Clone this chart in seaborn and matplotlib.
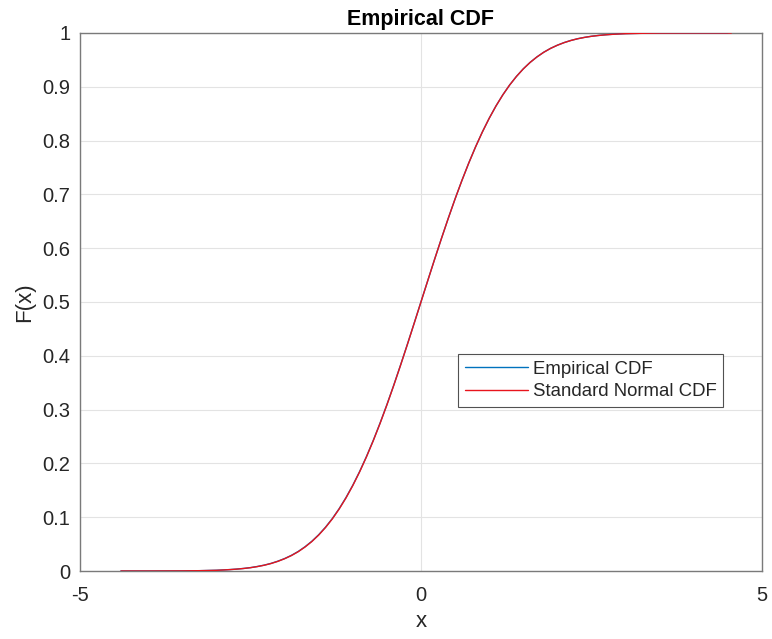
import matplotlib
matplotlib.use("Agg")
import matplotlib.pyplot as plt
import seaborn as sns
import pandas as pd

# Values
x_norm = [-4.4, -4.0, -3.5, -3.25, -3.0, -2.9, -2.8, -2.7, -2.6, -2.5, -2.4, -2.3, -2.2, -2.1,
          -2.0, -1.9, -1.8, -1.7, -1.6, -1.5, -1.4, -1.3, -1.2, -1.1, -1.0, -0.9, -0.8,
          -0.7, -0.6, -0.5, -0.4, -0.3, -0.2, -0.1, 0.0, 0.1, 0.2, 0.3, 0.4, 0.5, 0.6,
          0.7, 0.8, 0.9, 1.0, 1.1, 1.2, 1.3, 1.4, 1.5, 1.6, 1.7, 1.8, 1.9, 2.0, 2.1,
          2.2, 2.3, 2.4, 2.5, 2.6, 2.7, 2.8, 2.9, 3.0, 3.25, 3.5, 4.0, 4.55]
y_norm = [0.0, 0.0, 0.0002, 0.0006, 0.0013, 0.0019, 0.0026, 0.0035, 0.0047, 0.0062, 0.0082,
          0.0107, 0.0139, 0.0179, 0.0228, 0.0287, 0.0359, 0.0446, 0.0548, 0.0668, 0.0808,
          0.0968, 0.1151, 0.1357, 0.1587, 0.1841, 0.2119, 0.2420, 0.2743, 0.3085, 0.3446,
          0.3821, 0.4207, 0.4602, 0.5000, 0.5398, 0.5793, 0.6179, 0.6554, 0.6915, 0.7257,
          0.7580, 0.7881, 0.8159, 0.8413, 0.8643, 0.8849, 0.9032, 0.9192, 0.9332, 0.9452,
          0.9554, 0.9641, 0.9713, 0.9772, 0.9821, 0.9861, 0.9893, 0.9918, 0.9938, 0.9953,
          0.9965, 0.9974, 0.9981, 0.9987, 0.9994, 0.9998, 1.0, 1.0]

x_emp = [-4.4, -4.0, -3.5, -3.25, -3.0, -2.9, -2.8, -2.7, -2.6, -2.5, -2.4, -2.3, -2.2, -2.1,
         -2.0, -1.9, -1.8, -1.7, -1.6, -1.5, -1.4, -1.3, -1.2, -1.1, -1.0, -0.9, -0.8,
         -0.7, -0.6, -0.5, -0.4, -0.3, -0.2, -0.1, 0.0, 0.1, 0.2, 0.3, 0.4, 0.5, 0.6,
         0.7, 0.8, 0.9, 1.0, 1.1, 1.2, 1.3, 1.4, 1.5, 1.6, 1.7, 1.8, 1.9, 2.0, 2.1,
         2.2, 2.3, 2.4, 2.5, 2.6, 2.7, 2.8, 2.9, 3.0, 3.25, 3.5, 4.0, 4.5]
y_emp = [0.0, 0.0, 0.0002, 0.0006, 0.0014, 0.0020, 0.0027, 0.0036, 0.0048, 0.0063, 0.0084,
         0.0109, 0.0141, 0.0182, 0.0231, 0.0291, 0.0363, 0.0451, 0.0553, 0.0674, 0.0814,
         0.0975, 0.1158, 0.1364, 0.1594, 0.1848, 0.2126, 0.2426, 0.2749, 0.3091, 0.3451,
         0.3826, 0.4211, 0.4605, 0.5003, 0.5400, 0.5795, 0.6180, 0.6555, 0.6916, 0.7258,
         0.7581, 0.7882, 0.8160, 0.8414, 0.8644, 0.8850, 0.9033, 0.9193, 0.9333, 0.9453,
         0.9555, 0.9642, 0.9714, 0.9773, 0.9822, 0.9862, 0.9894, 0.9919, 0.9939, 0.9954,
         0.9966, 0.9975, 0.9982, 0.9988, 0.9995, 0.9998, 1.0, 1.0]

x_ticks = [-5, 0, 5]
y_ticks = [0, 0.1, 0.2, 0.3, 0.4, 0.5, 0.6, 0.7, 0.8, 0.9, 1]
y_tick_labels = ["0", "0.1", "0.2", "0.3", "0.4", "0.5", "0.6", "0.7", "0.8", "0.9", "1"]

sns.set_theme(style="white")
plt.rcParams['font.family'] = ['Liberation Sans', 'DejaVu Sans']

df_emp = pd.DataFrame({"x": x_emp, "y": y_emp})
df_norm = pd.DataFrame({"x": x_norm, "y": y_norm})

fig = plt.figure(figsize=(7.72, 6.39), dpi=100)
ax = fig.add_axes([0.1036, 0.1064, 0.8834, 0.842])

sns.lineplot(data=df_emp, x="x", y="y", ax=ax, color=(0.0, 0.447, 0.741), lw=1.0,
             label="Empirical CDF", sort=False, zorder=3)
sns.lineplot(data=df_norm, x="x", y="y", ax=ax, color="#e8141c", lw=1.0,
             label="Standard Normal CDF", sort=False, zorder=3.1)

ax.set_xlim(-5, 5)
ax.set_ylim(0, 1)
ax.set_xticks(x_ticks)
ax.set_xticklabels([str(t) for t in x_ticks])
ax.set_yticks(y_ticks)
ax.set_yticklabels(y_tick_labels)
ax.grid(True, color="#e3e3e3", lw=0.8)
ax.set_axisbelow(True)

for s in ax.spines.values():
    s.set_color("#7a7a7a")
    s.set_linewidth(1.0)
ax.tick_params(axis="both", direction="in", length=4, color="#7a7a7a",
               labelsize=14.5, labelcolor="#262626", top=False, right=False)
ax.tick_params(axis="x", pad=11)
ax.tick_params(axis="y", pad=7)

ax.set_xlabel("x", fontsize=16, color="#262626", labelpad=4)
ax.set_ylabel("F(x)", fontsize=16, color="#262626", labelpad=5)
ax.set_title("Empirical CDF", fontsize=15.5, fontweight="bold", color="black", pad=6)

leg = ax.legend(loc="lower left", bbox_to_anchor=(0.5543, 0.305), borderaxespad=0,
                fontsize=13.4, frameon=True, fancybox=False, handlelength=3.4,
                borderpad=0.35, labelspacing=0.29, handletextpad=0.27)
leg.get_frame().set_edgecolor("#262626")
leg.get_frame().set_linewidth(0.8)
leg.set_zorder(5)

fig.savefig("out.png", dpi=100)
